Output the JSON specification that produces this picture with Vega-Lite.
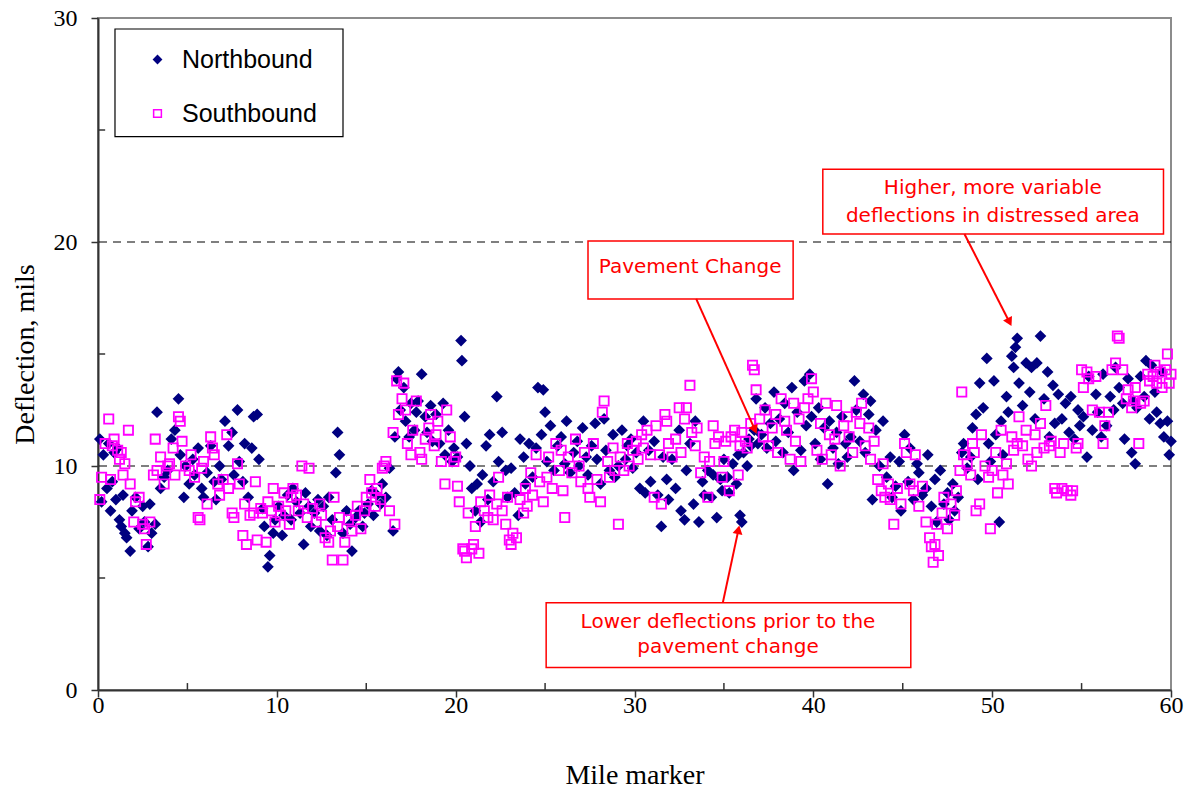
{
"$schema": "https://vega.github.io/schema/vega-lite/v6.json",
"width": 1073, "height": 672,
"autosize": "none",
"padding": {"left": 98, "top": 18, "right": 19, "bottom": 105},
"background": "white",
"config": {
 "view": {"stroke": "#8c8c8c", "strokeWidth": 2},
 "axis": {"domainColor": "#333333", "domainWidth": 2, "tickColor": "#333333", "tickWidth": 1.5, "labelFont": "Liberation Serif", "labelFontSize": 24, "labelColor": "black", "titleFont": "Liberation Serif", "titleFontSize": 28, "titleFontWeight": "normal", "titleColor": "black", "grid": false, "labelFlush": false}
},
"datasets": {
"pts": [
{"d":"N","x":0.1,"y":11.2},{"d":"N","x":0.2,"y":8.4},{"d":"N","x":0.3,"y":10.5},{"d":"N","x":0.5,"y":9.0},{"d":"N","x":0.6,"y":11.0},{"d":"N","x":0.7,"y":8.0},{"d":"N","x":0.8,"y":9.3},{"d":"N","x":0.9,"y":10.6},
{"d":"N","x":1.0,"y":8.5},{"d":"N","x":1.1,"y":10.8},{"d":"N","x":1.2,"y":7.6},{"d":"N","x":1.3,"y":7.3},{"d":"N","x":1.4,"y":8.7},{"d":"N","x":1.5,"y":7.0},{"d":"N","x":1.6,"y":6.8},{"d":"N","x":1.8,"y":6.2},{"d":"N","x":1.9,"y":8.0},
{"d":"N","x":2.1,"y":8.6},{"d":"N","x":2.3,"y":7.2},{"d":"N","x":2.5,"y":8.2},{"d":"N","x":2.6,"y":7.5},{"d":"N","x":2.8,"y":6.4},{"d":"N","x":2.9,"y":8.3},
{"d":"N","x":3.0,"y":7.0},{"d":"N","x":3.2,"y":7.4},{"d":"N","x":3.3,"y":12.4},{"d":"N","x":3.5,"y":9.0},{"d":"N","x":3.7,"y":9.5},{"d":"N","x":3.9,"y":9.8},
{"d":"N","x":4.1,"y":11.2},{"d":"N","x":4.3,"y":11.6},{"d":"N","x":4.5,"y":13.0},{"d":"N","x":4.6,"y":10.5},{"d":"N","x":4.8,"y":8.6},{"d":"N","x":4.9,"y":10.0},
{"d":"N","x":5.1,"y":9.2},{"d":"N","x":5.3,"y":10.3},{"d":"N","x":5.4,"y":9.6},{"d":"N","x":5.6,"y":10.8},{"d":"N","x":5.8,"y":9.0},{"d":"N","x":5.9,"y":8.6},
{"d":"N","x":6.1,"y":9.7},{"d":"N","x":6.3,"y":10.9},{"d":"N","x":6.5,"y":9.3},{"d":"N","x":6.6,"y":8.5},{"d":"N","x":6.8,"y":10.0},{"d":"N","x":6.9,"y":9.4},
{"d":"N","x":7.1,"y":12.0},{"d":"N","x":7.3,"y":10.9},{"d":"N","x":7.5,"y":11.5},{"d":"N","x":7.6,"y":9.6},{"d":"N","x":7.8,"y":12.5},{"d":"N","x":7.9,"y":10.2},
{"d":"N","x":8.1,"y":9.3},{"d":"N","x":8.2,"y":11.0},{"d":"N","x":8.4,"y":8.6},{"d":"N","x":8.6,"y":10.8},{"d":"N","x":8.7,"y":12.2},{"d":"N","x":8.9,"y":12.3},{"d":"N","x":9.0,"y":10.3},
{"d":"N","x":9.2,"y":8.1},{"d":"N","x":9.3,"y":7.3},{"d":"N","x":9.5,"y":5.5},{"d":"N","x":9.6,"y":6.0},{"d":"N","x":9.8,"y":7.0},{"d":"N","x":9.9,"y":7.6},
{"d":"N","x":10.1,"y":8.2},{"d":"N","x":10.3,"y":6.9},{"d":"N","x":10.4,"y":7.8},{"d":"N","x":10.6,"y":8.7},{"d":"N","x":10.8,"y":7.6},{"d":"N","x":10.9,"y":9.0},
{"d":"N","x":11.1,"y":8.4},{"d":"N","x":11.3,"y":7.9},{"d":"N","x":11.5,"y":6.5},{"d":"N","x":11.6,"y":8.8},{"d":"N","x":11.8,"y":8.2},{"d":"N","x":11.9,"y":7.3},
{"d":"N","x":12.1,"y":7.9},{"d":"N","x":12.3,"y":8.5},{"d":"N","x":12.4,"y":7.1},{"d":"N","x":12.6,"y":8.2},{"d":"N","x":12.8,"y":6.9},{"d":"N","x":12.9,"y":8.6},
{"d":"N","x":13.1,"y":7.6},{"d":"N","x":13.3,"y":9.7},{"d":"N","x":13.4,"y":11.5},{"d":"N","x":13.5,"y":10.5},{"d":"N","x":13.7,"y":7.0},{"d":"N","x":13.9,"y":8.0},
{"d":"N","x":14.1,"y":7.4},{"d":"N","x":14.2,"y":6.2},{"d":"N","x":14.4,"y":7.7},{"d":"N","x":14.6,"y":8.0},{"d":"N","x":14.8,"y":7.3},{"d":"N","x":14.9,"y":7.9},
{"d":"N","x":15.1,"y":8.3},{"d":"N","x":15.3,"y":8.9},{"d":"N","x":15.4,"y":7.8},{"d":"N","x":15.6,"y":8.7},{"d":"N","x":15.8,"y":8.3},{"d":"N","x":15.9,"y":9.2},
{"d":"N","x":16.1,"y":8.6},{"d":"N","x":16.3,"y":9.9},{"d":"N","x":16.5,"y":7.1},{"d":"N","x":16.6,"y":11.3},{"d":"N","x":16.7,"y":13.9},{"d":"N","x":16.8,"y":14.2},{"d":"N","x":16.9,"y":12.5},
{"d":"N","x":17.1,"y":13.5},{"d":"N","x":17.2,"y":12.0},{"d":"N","x":17.4,"y":11.3},{"d":"N","x":17.5,"y":12.8},{"d":"N","x":17.7,"y":11.6},{"d":"N","x":17.8,"y":12.4},{"d":"N","x":17.9,"y":12.9},
{"d":"N","x":18.1,"y":14.1},{"d":"N","x":18.3,"y":12.2},{"d":"N","x":18.4,"y":11.5},{"d":"N","x":18.6,"y":12.7},{"d":"N","x":18.7,"y":11.1},{"d":"N","x":18.9,"y":12.3},
{"d":"N","x":19.1,"y":11.0},{"d":"N","x":19.3,"y":12.8},{"d":"N","x":19.4,"y":10.5},{"d":"N","x":19.6,"y":11.6},{"d":"N","x":19.8,"y":10.2},{"d":"N","x":19.9,"y":10.8},
{"d":"N","x":20.1,"y":10.4},{"d":"N","x":20.3,"y":15.6},{"d":"N","x":20.35,"y":14.7},{"d":"N","x":20.5,"y":12.2},{"d":"N","x":20.6,"y":11.0},{"d":"N","x":20.8,"y":10.0},{"d":"N","x":20.9,"y":9.0},
{"d":"N","x":21.1,"y":8.0},{"d":"N","x":21.2,"y":9.2},{"d":"N","x":21.4,"y":7.5},{"d":"N","x":21.5,"y":9.6},{"d":"N","x":21.7,"y":10.9},{"d":"N","x":21.8,"y":8.5},{"d":"N","x":21.9,"y":11.4},
{"d":"N","x":22.1,"y":9.3},{"d":"N","x":22.3,"y":13.1},{"d":"N","x":22.4,"y":10.2},{"d":"N","x":22.6,"y":11.5},{"d":"N","x":22.8,"y":9.8},{"d":"N","x":22.9,"y":8.6},
{"d":"N","x":23.1,"y":9.9},{"d":"N","x":23.3,"y":8.8},{"d":"N","x":23.5,"y":7.8},{"d":"N","x":23.6,"y":11.2},{"d":"N","x":23.8,"y":10.4},{"d":"N","x":23.9,"y":9.2},
{"d":"N","x":24.1,"y":11.0},{"d":"N","x":24.3,"y":9.5},{"d":"N","x":24.5,"y":10.8},{"d":"N","x":24.6,"y":13.5},{"d":"N","x":24.8,"y":11.4},{"d":"N","x":24.9,"y":13.4},
{"d":"N","x":25.0,"y":12.4},{"d":"N","x":25.1,"y":10.2},{"d":"N","x":25.3,"y":11.8},{"d":"N","x":25.5,"y":9.8},{"d":"N","x":25.7,"y":10.9},{"d":"N","x":25.9,"y":11.3},
{"d":"N","x":26.1,"y":10.1},{"d":"N","x":26.2,"y":12.0},{"d":"N","x":26.4,"y":9.7},{"d":"N","x":26.6,"y":10.6},{"d":"N","x":26.8,"y":11.1},{"d":"N","x":26.9,"y":10.0},
{"d":"N","x":27.1,"y":11.7},{"d":"N","x":27.3,"y":10.4},{"d":"N","x":27.4,"y":9.6},{"d":"N","x":27.6,"y":10.9},{"d":"N","x":27.8,"y":11.9},{"d":"N","x":27.9,"y":10.3},
{"d":"N","x":28.1,"y":9.2},{"d":"N","x":28.3,"y":12.1},{"d":"N","x":28.4,"y":10.7},{"d":"N","x":28.6,"y":9.8},{"d":"N","x":28.8,"y":11.4},{"d":"N","x":28.9,"y":9.5},
{"d":"N","x":29.1,"y":10.0},{"d":"N","x":29.3,"y":11.6},{"d":"N","x":29.5,"y":10.3},{"d":"N","x":29.6,"y":10.9},{"d":"N","x":29.8,"y":11.2},{"d":"N","x":29.9,"y":9.9},
{"d":"N","x":30.1,"y":10.6},{"d":"N","x":30.3,"y":9.0},{"d":"N","x":30.5,"y":12.0},{"d":"N","x":30.6,"y":8.8},{"d":"N","x":30.8,"y":10.7},{"d":"N","x":30.9,"y":9.3},
{"d":"N","x":31.1,"y":11.1},{"d":"N","x":31.3,"y":8.7},{"d":"N","x":31.5,"y":7.3},{"d":"N","x":31.6,"y":10.4},{"d":"N","x":31.8,"y":9.4},{"d":"N","x":31.9,"y":8.5},
{"d":"N","x":32.1,"y":10.3},{"d":"N","x":32.3,"y":9.0},{"d":"N","x":32.5,"y":11.6},{"d":"N","x":32.6,"y":8.0},{"d":"N","x":32.8,"y":7.6},{"d":"N","x":32.9,"y":9.8},
{"d":"N","x":33.1,"y":11.0},{"d":"N","x":33.3,"y":8.3},{"d":"N","x":33.4,"y":12.0},{"d":"N","x":33.6,"y":7.5},{"d":"N","x":33.8,"y":9.3},{"d":"N","x":33.9,"y":8.7},
{"d":"N","x":34.1,"y":9.8},{"d":"N","x":34.3,"y":8.6},{"d":"N","x":34.4,"y":9.6},{"d":"N","x":34.6,"y":7.7},{"d":"N","x":34.8,"y":9.4},{"d":"N","x":34.9,"y":8.9},
{"d":"N","x":35.0,"y":10.3},{"d":"N","x":35.2,"y":9.5},{"d":"N","x":35.3,"y":8.8},{"d":"N","x":35.5,"y":10.1},{"d":"N","x":35.7,"y":9.2},{"d":"N","x":35.8,"y":10.5},{"d":"N","x":35.9,"y":7.8},{"d":"N","x":36.0,"y":7.5},
{"d":"N","x":36.1,"y":10.6},{"d":"N","x":36.3,"y":10.0},{"d":"N","x":36.4,"y":11.2},{"d":"N","x":36.5,"y":10.9},{"d":"N","x":36.7,"y":11.6},{"d":"N","x":36.8,"y":13.0},{"d":"N","x":36.9,"y":11.0},
{"d":"N","x":37.1,"y":11.4},{"d":"N","x":37.3,"y":12.6},{"d":"N","x":37.4,"y":10.8},{"d":"N","x":37.6,"y":11.9},{"d":"N","x":37.8,"y":13.3},{"d":"N","x":37.9,"y":11.1},
{"d":"N","x":38.1,"y":12.1},{"d":"N","x":38.3,"y":10.6},{"d":"N","x":38.4,"y":12.8},{"d":"N","x":38.6,"y":11.5},{"d":"N","x":38.8,"y":13.5},{"d":"N","x":38.9,"y":9.8},
{"d":"N","x":39.1,"y":12.4},{"d":"N","x":39.3,"y":10.7},{"d":"N","x":39.5,"y":13.8},{"d":"N","x":39.6,"y":11.8},{"d":"N","x":39.8,"y":14.1},{"d":"N","x":39.9,"y":12.2},
{"d":"N","x":40.1,"y":11.0},{"d":"N","x":40.3,"y":12.6},{"d":"N","x":40.4,"y":10.3},{"d":"N","x":40.6,"y":11.7},{"d":"N","x":40.8,"y":9.2},{"d":"N","x":40.9,"y":12.0},
{"d":"N","x":41.1,"y":10.8},{"d":"N","x":41.3,"y":11.5},{"d":"N","x":41.4,"y":10.1},{"d":"N","x":41.6,"y":12.2},{"d":"N","x":41.8,"y":11.0},{"d":"N","x":41.9,"y":10.4},
{"d":"N","x":42.1,"y":11.3},{"d":"N","x":42.3,"y":13.8},{"d":"N","x":42.4,"y":12.5},{"d":"N","x":42.6,"y":11.1},{"d":"N","x":42.8,"y":13.2},{"d":"N","x":42.9,"y":10.6},
{"d":"N","x":43.1,"y":12.3},{"d":"N","x":43.2,"y":12.9},{"d":"N","x":43.3,"y":8.5},{"d":"N","x":43.5,"y":11.6},{"d":"N","x":43.7,"y":10.0},{"d":"N","x":43.9,"y":12.0},
{"d":"N","x":44.1,"y":9.5},{"d":"N","x":44.3,"y":10.4},{"d":"N","x":44.4,"y":8.6},{"d":"N","x":44.6,"y":9.1},{"d":"N","x":44.8,"y":10.2},{"d":"N","x":44.9,"y":8.0},
{"d":"N","x":45.1,"y":11.4},{"d":"N","x":45.3,"y":9.3},{"d":"N","x":45.4,"y":10.8},{"d":"N","x":45.6,"y":8.5},{"d":"N","x":45.8,"y":10.1},{"d":"N","x":45.9,"y":9.7},
{"d":"N","x":46.1,"y":8.7},{"d":"N","x":46.3,"y":9.0},{"d":"N","x":46.4,"y":10.5},{"d":"N","x":46.6,"y":8.2},{"d":"N","x":46.8,"y":9.4},{"d":"N","x":46.9,"y":7.5},
{"d":"N","x":47.1,"y":9.8},{"d":"N","x":47.3,"y":8.3},{"d":"N","x":47.5,"y":8.8},{"d":"N","x":47.6,"y":7.6},{"d":"N","x":47.8,"y":9.2},{"d":"N","x":47.9,"y":8.0},
{"d":"N","x":48.1,"y":8.6},{"d":"N","x":48.3,"y":10.6},{"d":"N","x":48.4,"y":11.0},{"d":"N","x":48.6,"y":9.9},{"d":"N","x":48.8,"y":10.4},{"d":"N","x":48.9,"y":11.7},
{"d":"N","x":49.1,"y":12.3},{"d":"N","x":49.2,"y":9.4},{"d":"N","x":49.3,"y":13.7},{"d":"N","x":49.5,"y":12.6},{"d":"N","x":49.7,"y":14.8},{"d":"N","x":49.8,"y":11.0},{"d":"N","x":49.9,"y":10.2},
{"d":"N","x":50.1,"y":13.8},{"d":"N","x":50.2,"y":11.4},{"d":"N","x":50.4,"y":7.5},{"d":"N","x":50.5,"y":12.0},{"d":"N","x":50.6,"y":10.5},{"d":"N","x":50.8,"y":13.1},{"d":"N","x":50.9,"y":12.4},
{"d":"N","x":51.1,"y":14.9},{"d":"N","x":51.2,"y":14.4},{"d":"N","x":51.3,"y":15.3},{"d":"N","x":51.4,"y":15.7},{"d":"N","x":51.5,"y":13.7},{"d":"N","x":51.7,"y":12.7},{"d":"N","x":51.9,"y":14.6},
{"d":"N","x":52.1,"y":13.3},{"d":"N","x":52.2,"y":14.4},{"d":"N","x":52.4,"y":12.1},{"d":"N","x":52.5,"y":14.6},{"d":"N","x":52.7,"y":15.8},{"d":"N","x":52.9,"y":13.0},
{"d":"N","x":53.1,"y":14.2},{"d":"N","x":53.2,"y":11.3},{"d":"N","x":53.4,"y":13.6},{"d":"N","x":53.5,"y":11.9},{"d":"N","x":53.7,"y":13.2},{"d":"N","x":53.9,"y":12.1},
{"d":"N","x":54.1,"y":12.8},{"d":"N","x":54.3,"y":11.5},{"d":"N","x":54.4,"y":13.1},{"d":"N","x":54.6,"y":11.2},{"d":"N","x":54.8,"y":12.5},{"d":"N","x":54.9,"y":11.8},
{"d":"N","x":55.1,"y":12.2},{"d":"N","x":55.3,"y":10.4},{"d":"N","x":55.4,"y":14.0},{"d":"N","x":55.6,"y":11.6},{"d":"N","x":55.8,"y":13.2},{"d":"N","x":55.9,"y":12.4},
{"d":"N","x":56.1,"y":11.3},{"d":"N","x":56.2,"y":14.1},{"d":"N","x":56.4,"y":11.8},{"d":"N","x":56.6,"y":13.1},{"d":"N","x":56.8,"y":12.5},{"d":"N","x":56.9,"y":14.4},
{"d":"N","x":57.1,"y":13.5},{"d":"N","x":57.3,"y":12.8},{"d":"N","x":57.4,"y":11.2},{"d":"N","x":57.6,"y":13.9},{"d":"N","x":57.8,"y":10.6},{"d":"N","x":57.9,"y":12.9},
{"d":"N","x":58.0,"y":10.1},{"d":"N","x":58.1,"y":12.6},{"d":"N","x":58.3,"y":14.0},{"d":"N","x":58.5,"y":13.1},{"d":"N","x":58.6,"y":14.7},{"d":"N","x":58.8,"y":12.1},{"d":"N","x":58.9,"y":14.5},
{"d":"N","x":59.1,"y":13.3},{"d":"N","x":59.2,"y":12.4},{"d":"N","x":59.4,"y":11.9},{"d":"N","x":59.5,"y":14.2},{"d":"N","x":59.6,"y":11.3},{"d":"N","x":59.8,"y":12.0},{"d":"N","x":59.9,"y":10.5},{"d":"N","x":60.0,"y":11.1},
{"d":"S","x":0.1,"y":8.5},{"d":"S","x":0.2,"y":9.5},{"d":"S","x":0.4,"y":11.0},{"d":"S","x":0.6,"y":12.1},{"d":"S","x":0.7,"y":9.4},{"d":"S","x":0.8,"y":10.9},{"d":"S","x":0.9,"y":11.2},
{"d":"S","x":1.1,"y":10.7},{"d":"S","x":1.2,"y":10.3},{"d":"S","x":1.3,"y":10.6},{"d":"S","x":1.4,"y":9.6},{"d":"S","x":1.5,"y":10.1},{"d":"S","x":1.7,"y":11.6},{"d":"S","x":1.8,"y":9.2},
{"d":"S","x":2.0,"y":7.5},{"d":"S","x":2.1,"y":8.4},{"d":"S","x":2.3,"y":8.6},{"d":"S","x":2.5,"y":7.4},{"d":"S","x":2.6,"y":7.2},{"d":"S","x":2.7,"y":6.5},{"d":"S","x":2.9,"y":7.5},
{"d":"S","x":3.1,"y":9.6},{"d":"S","x":3.2,"y":11.2},{"d":"S","x":3.3,"y":9.8},{"d":"S","x":3.5,"y":10.4},{"d":"S","x":3.7,"y":9.2},{"d":"S","x":3.9,"y":10.0},
{"d":"S","x":4.0,"y":10.1},{"d":"S","x":4.2,"y":10.8},{"d":"S","x":4.3,"y":9.6},{"d":"S","x":4.5,"y":12.2},{"d":"S","x":4.6,"y":12.0},{"d":"S","x":4.7,"y":11.1},{"d":"S","x":4.9,"y":10.0},
{"d":"S","x":5.1,"y":9.8},{"d":"S","x":5.2,"y":10.5},{"d":"S","x":5.4,"y":9.5},{"d":"S","x":5.6,"y":7.7},{"d":"S","x":5.7,"y":7.6},{"d":"S","x":5.8,"y":9.9},{"d":"S","x":5.9,"y":10.2},
{"d":"S","x":6.1,"y":8.3},{"d":"S","x":6.3,"y":11.3},{"d":"S","x":6.4,"y":10.8},{"d":"S","x":6.5,"y":10.5},{"d":"S","x":6.7,"y":9.2},{"d":"S","x":6.8,"y":8.7},
{"d":"S","x":7.0,"y":9.4},{"d":"S","x":7.2,"y":11.4},{"d":"S","x":7.3,"y":9.0},{"d":"S","x":7.5,"y":7.9},{"d":"S","x":7.6,"y":7.7},{"d":"S","x":7.8,"y":10.1},{"d":"S","x":7.9,"y":9.2},
{"d":"S","x":8.1,"y":6.9},{"d":"S","x":8.2,"y":8.3},{"d":"S","x":8.3,"y":6.5},{"d":"S","x":8.5,"y":7.8},{"d":"S","x":8.7,"y":7.9},{"d":"S","x":8.8,"y":9.3},{"d":"S","x":8.9,"y":6.7},
{"d":"S","x":9.1,"y":8.1},{"d":"S","x":9.2,"y":7.9},{"d":"S","x":9.4,"y":6.6},{"d":"S","x":9.5,"y":8.4},{"d":"S","x":9.7,"y":8.0},{"d":"S","x":9.8,"y":9.0},{"d":"S","x":9.9,"y":7.5},
{"d":"S","x":10.1,"y":8.2},{"d":"S","x":10.2,"y":7.8},{"d":"S","x":10.4,"y":8.8},{"d":"S","x":10.5,"y":8.0},{"d":"S","x":10.7,"y":7.4},{"d":"S","x":10.8,"y":8.6},{"d":"S","x":10.9,"y":9.0},
{"d":"S","x":11.1,"y":8.7},{"d":"S","x":11.2,"y":8.0},{"d":"S","x":11.4,"y":10.0},{"d":"S","x":11.5,"y":8.3},{"d":"S","x":11.7,"y":7.7},{"d":"S","x":11.8,"y":9.9},
{"d":"S","x":12.0,"y":8.1},{"d":"S","x":12.2,"y":7.5},{"d":"S","x":12.4,"y":8.3},{"d":"S","x":12.5,"y":7.8},{"d":"S","x":12.7,"y":6.8},{"d":"S","x":12.9,"y":6.6},
{"d":"S","x":13.0,"y":7.1},{"d":"S","x":13.1,"y":5.8},{"d":"S","x":13.2,"y":8.6},{"d":"S","x":13.4,"y":7.3},{"d":"S","x":13.5,"y":7.7},{"d":"S","x":13.7,"y":5.8},{"d":"S","x":13.8,"y":6.6},
{"d":"S","x":14.0,"y":7.6},{"d":"S","x":14.2,"y":7.1},{"d":"S","x":14.4,"y":7.8},{"d":"S","x":14.5,"y":8.2},{"d":"S","x":14.7,"y":7.2},{"d":"S","x":14.9,"y":8.0},
{"d":"S","x":15.0,"y":8.6},{"d":"S","x":15.2,"y":9.4},{"d":"S","x":15.3,"y":8.8},{"d":"S","x":15.5,"y":8.2},{"d":"S","x":15.6,"y":9.0},{"d":"S","x":15.8,"y":8.5},{"d":"S","x":15.9,"y":9.9},
{"d":"S","x":16.0,"y":10.0},{"d":"S","x":16.1,"y":10.2},{"d":"S","x":16.3,"y":8.0},{"d":"S","x":16.5,"y":11.5},{"d":"S","x":16.6,"y":7.4},{"d":"S","x":16.7,"y":13.8},{"d":"S","x":16.8,"y":12.3},
{"d":"S","x":17.0,"y":13.0},{"d":"S","x":17.1,"y":13.7},{"d":"S","x":17.2,"y":12.5},{"d":"S","x":17.3,"y":11.0},{"d":"S","x":17.5,"y":10.5},{"d":"S","x":17.6,"y":11.6},{"d":"S","x":17.8,"y":12.9},
{"d":"S","x":18.0,"y":10.6},{"d":"S","x":18.1,"y":10.3},{"d":"S","x":18.3,"y":11.2},{"d":"S","x":18.5,"y":11.7},{"d":"S","x":18.6,"y":12.3},{"d":"S","x":18.8,"y":10.9},{"d":"S","x":18.9,"y":11.4},
{"d":"S","x":19.0,"y":12.0},{"d":"S","x":19.2,"y":10.2},{"d":"S","x":19.4,"y":9.2},{"d":"S","x":19.5,"y":12.5},{"d":"S","x":19.7,"y":11.3},{"d":"S","x":19.9,"y":10.2},
{"d":"S","x":20.0,"y":10.4},{"d":"S","x":20.1,"y":9.1},{"d":"S","x":20.2,"y":8.4},{"d":"S","x":20.4,"y":6.3},{"d":"S","x":20.5,"y":6.2},{"d":"S","x":20.6,"y":5.9},{"d":"S","x":20.7,"y":7.9},{"d":"S","x":20.9,"y":6.3},
{"d":"S","x":21.0,"y":6.5},{"d":"S","x":21.1,"y":7.3},{"d":"S","x":21.3,"y":6.1},{"d":"S","x":21.4,"y":8.4},{"d":"S","x":21.6,"y":8.0},{"d":"S","x":21.8,"y":7.7},{"d":"S","x":21.9,"y":8.7},
{"d":"S","x":22.1,"y":7.6},{"d":"S","x":22.3,"y":8.3},{"d":"S","x":22.4,"y":9.5},{"d":"S","x":22.6,"y":8.0},{"d":"S","x":22.8,"y":7.4},{"d":"S","x":22.9,"y":8.6},
{"d":"S","x":23.0,"y":6.7},{"d":"S","x":23.1,"y":6.5},{"d":"S","x":23.2,"y":7.0},{"d":"S","x":23.4,"y":6.8},{"d":"S","x":23.6,"y":8.5},{"d":"S","x":23.8,"y":7.9},{"d":"S","x":23.9,"y":9.0},
{"d":"S","x":24.0,"y":8.2},{"d":"S","x":24.2,"y":9.7},{"d":"S","x":24.3,"y":8.7},{"d":"S","x":24.5,"y":10.5},{"d":"S","x":24.7,"y":9.3},{"d":"S","x":24.9,"y":8.4},
{"d":"S","x":25.1,"y":9.5},{"d":"S","x":25.2,"y":10.4},{"d":"S","x":25.4,"y":9.0},{"d":"S","x":25.6,"y":11.0},{"d":"S","x":25.8,"y":9.8},{"d":"S","x":25.9,"y":10.7},
{"d":"S","x":26.0,"y":8.9},{"d":"S","x":26.1,"y":7.7},{"d":"S","x":26.3,"y":10.4},{"d":"S","x":26.5,"y":9.7},{"d":"S","x":26.7,"y":11.2},{"d":"S","x":26.9,"y":10.0},
{"d":"S","x":27.0,"y":9.3},{"d":"S","x":27.2,"y":10.6},{"d":"S","x":27.4,"y":9.0},{"d":"S","x":27.5,"y":8.6},{"d":"S","x":27.7,"y":11.0},{"d":"S","x":27.9,"y":9.4},
{"d":"S","x":28.1,"y":8.4},{"d":"S","x":28.2,"y":12.4},{"d":"S","x":28.3,"y":12.9},{"d":"S","x":28.5,"y":10.2},{"d":"S","x":28.6,"y":9.5},{"d":"S","x":28.8,"y":10.8},{"d":"S","x":28.9,"y":9.8},
{"d":"S","x":29.1,"y":7.4},{"d":"S","x":29.2,"y":10.4},{"d":"S","x":29.4,"y":9.8},{"d":"S","x":29.6,"y":11.0},{"d":"S","x":29.7,"y":10.0},{"d":"S","x":29.9,"y":10.7},
{"d":"S","x":30.1,"y":11.1},{"d":"S","x":30.2,"y":10.3},{"d":"S","x":30.4,"y":11.4},{"d":"S","x":30.5,"y":10.8},{"d":"S","x":30.7,"y":11.6},{"d":"S","x":30.9,"y":10.5},
{"d":"S","x":31.1,"y":8.6},{"d":"S","x":31.2,"y":11.8},{"d":"S","x":31.4,"y":10.5},{"d":"S","x":31.5,"y":8.3},{"d":"S","x":31.7,"y":12.3},{"d":"S","x":31.8,"y":12.0},{"d":"S","x":31.9,"y":11.0},
{"d":"S","x":32.1,"y":10.4},{"d":"S","x":32.3,"y":11.2},{"d":"S","x":32.5,"y":12.6},{"d":"S","x":32.6,"y":10.6},{"d":"S","x":32.8,"y":12.1},{"d":"S","x":32.9,"y":12.6},
{"d":"S","x":33.1,"y":13.6},{"d":"S","x":33.2,"y":11.5},{"d":"S","x":33.4,"y":10.9},{"d":"S","x":33.5,"y":11.7},{"d":"S","x":33.7,"y":9.7},{"d":"S","x":33.9,"y":10.4},
{"d":"S","x":34.1,"y":8.6},{"d":"S","x":34.2,"y":10.2},{"d":"S","x":34.4,"y":11.8},{"d":"S","x":34.5,"y":11.0},{"d":"S","x":34.7,"y":11.3},{"d":"S","x":34.9,"y":9.5},
{"d":"S","x":35.0,"y":10.2},{"d":"S","x":35.1,"y":11.1},{"d":"S","x":35.3,"y":8.9},{"d":"S","x":35.4,"y":11.3},{"d":"S","x":35.6,"y":11.6},{"d":"S","x":35.8,"y":9.6},{"d":"S","x":35.9,"y":10.9},
{"d":"S","x":36.0,"y":11.5},{"d":"S","x":36.2,"y":11.1},{"d":"S","x":36.3,"y":10.8},{"d":"S","x":36.5,"y":11.9},{"d":"S","x":36.6,"y":14.5},{"d":"S","x":36.7,"y":14.3},{"d":"S","x":36.8,"y":13.4},
{"d":"S","x":37.0,"y":12.1},{"d":"S","x":37.2,"y":11.3},{"d":"S","x":37.3,"y":12.5},{"d":"S","x":37.5,"y":10.9},{"d":"S","x":37.7,"y":11.7},{"d":"S","x":37.9,"y":12.3},
{"d":"S","x":38.0,"y":10.6},{"d":"S","x":38.2,"y":13.0},{"d":"S","x":38.4,"y":12.0},{"d":"S","x":38.5,"y":11.6},{"d":"S","x":38.7,"y":10.3},{"d":"S","x":38.9,"y":12.8},
{"d":"S","x":39.0,"y":11.1},{"d":"S","x":39.2,"y":12.1},{"d":"S","x":39.3,"y":10.2},{"d":"S","x":39.5,"y":12.6},{"d":"S","x":39.7,"y":13.0},{"d":"S","x":39.9,"y":13.9},
{"d":"S","x":40.0,"y":13.3},{"d":"S","x":40.2,"y":10.7},{"d":"S","x":40.4,"y":11.9},{"d":"S","x":40.5,"y":10.3},{"d":"S","x":40.7,"y":12.8},{"d":"S","x":40.9,"y":11.4},
{"d":"S","x":41.0,"y":10.5},{"d":"S","x":41.2,"y":11.2},{"d":"S","x":41.3,"y":12.7},{"d":"S","x":41.5,"y":10.0},{"d":"S","x":41.7,"y":11.8},{"d":"S","x":41.9,"y":12.2},
{"d":"S","x":42.0,"y":11.3},{"d":"S","x":42.2,"y":10.6},{"d":"S","x":42.4,"y":12.4},{"d":"S","x":42.6,"y":11.9},{"d":"S","x":42.7,"y":12.8},{"d":"S","x":42.9,"y":10.9},
{"d":"S","x":43.1,"y":11.7},{"d":"S","x":43.2,"y":10.3},{"d":"S","x":43.4,"y":11.1},{"d":"S","x":43.6,"y":9.4},{"d":"S","x":43.8,"y":8.9},{"d":"S","x":43.9,"y":10.1},
{"d":"S","x":44.0,"y":8.6},{"d":"S","x":44.2,"y":9.2},{"d":"S","x":44.3,"y":8.5},{"d":"S","x":44.5,"y":7.4},{"d":"S","x":44.7,"y":9.0},{"d":"S","x":44.9,"y":8.3},
{"d":"S","x":45.1,"y":11.0},{"d":"S","x":45.2,"y":10.6},{"d":"S","x":45.4,"y":9.2},{"d":"S","x":45.6,"y":8.9},{"d":"S","x":45.7,"y":10.5},{"d":"S","x":45.9,"y":8.2},
{"d":"S","x":46.1,"y":9.1},{"d":"S","x":46.3,"y":7.5},{"d":"S","x":46.5,"y":6.8},{"d":"S","x":46.6,"y":6.4},{"d":"S","x":46.7,"y":5.7},{"d":"S","x":46.8,"y":6.5},{"d":"S","x":46.9,"y":7.4},
{"d":"S","x":47.0,"y":6.0},{"d":"S","x":47.2,"y":7.9},{"d":"S","x":47.3,"y":8.6},{"d":"S","x":47.5,"y":7.2},{"d":"S","x":47.7,"y":8.3},{"d":"S","x":47.9,"y":7.8},
{"d":"S","x":48.0,"y":8.9},{"d":"S","x":48.2,"y":9.8},{"d":"S","x":48.3,"y":13.3},{"d":"S","x":48.4,"y":10.5},{"d":"S","x":48.6,"y":10.1},{"d":"S","x":48.8,"y":9.6},{"d":"S","x":48.9,"y":11.0},
{"d":"S","x":49.0,"y":10.6},{"d":"S","x":49.1,"y":8.0},{"d":"S","x":49.3,"y":8.3},{"d":"S","x":49.4,"y":11.4},{"d":"S","x":49.6,"y":10.0},{"d":"S","x":49.8,"y":9.5},{"d":"S","x":49.9,"y":7.2},
{"d":"S","x":50.0,"y":9.8},{"d":"S","x":50.2,"y":10.6},{"d":"S","x":50.3,"y":8.8},{"d":"S","x":50.5,"y":11.6},{"d":"S","x":50.6,"y":9.6},{"d":"S","x":50.8,"y":10.1},{"d":"S","x":50.9,"y":9.2},
{"d":"S","x":51.1,"y":11.3},{"d":"S","x":51.2,"y":10.7},{"d":"S","x":51.4,"y":11.0},{"d":"S","x":51.5,"y":12.2},{"d":"S","x":51.7,"y":10.9},{"d":"S","x":51.9,"y":11.6},
{"d":"S","x":52.0,"y":10.3},{"d":"S","x":52.2,"y":10.0},{"d":"S","x":52.4,"y":11.4},{"d":"S","x":52.5,"y":10.6},{"d":"S","x":52.7,"y":11.9},{"d":"S","x":52.9,"y":10.8},
{"d":"S","x":53.0,"y":12.7},{"d":"S","x":53.2,"y":10.9},{"d":"S","x":53.3,"y":11.1},{"d":"S","x":53.5,"y":9.0},{"d":"S","x":53.6,"y":8.8},{"d":"S","x":53.8,"y":10.6},{"d":"S","x":53.9,"y":9.0},
{"d":"S","x":54.0,"y":11.0},{"d":"S","x":54.2,"y":8.9},{"d":"S","x":54.4,"y":8.7},{"d":"S","x":54.5,"y":8.9},{"d":"S","x":54.7,"y":10.8},{"d":"S","x":54.8,"y":11.0},
{"d":"S","x":55.0,"y":14.3},{"d":"S","x":55.1,"y":13.5},{"d":"S","x":55.3,"y":14.2},{"d":"S","x":55.4,"y":13.9},{"d":"S","x":55.6,"y":12.5},{"d":"S","x":55.8,"y":14.0},
{"d":"S","x":56.0,"y":12.4},{"d":"S","x":56.2,"y":11.0},{"d":"S","x":56.3,"y":11.8},{"d":"S","x":56.5,"y":12.4},{"d":"S","x":56.7,"y":14.3},{"d":"S","x":56.9,"y":14.6},
{"d":"S","x":57.0,"y":15.8},{"d":"S","x":57.1,"y":15.7},{"d":"S","x":57.3,"y":14.3},{"d":"S","x":57.5,"y":13.0},{"d":"S","x":57.6,"y":13.4},{"d":"S","x":57.8,"y":12.6},{"d":"S","x":57.9,"y":12.9},
{"d":"S","x":58.0,"y":13.5},{"d":"S","x":58.2,"y":11.0},{"d":"S","x":58.3,"y":12.8},{"d":"S","x":58.5,"y":12.9},{"d":"S","x":58.7,"y":14.1},{"d":"S","x":58.8,"y":13.8},
{"d":"S","x":59.0,"y":14.0},{"d":"S","x":59.1,"y":14.5},{"d":"S","x":59.2,"y":13.7},{"d":"S","x":59.4,"y":14.2},{"d":"S","x":59.5,"y":13.5},{"d":"S","x":59.7,"y":14.3},{"d":"S","x":59.8,"y":15.0},{"d":"S","x":59.9,"y":13.7},{"d":"S","x":60.0,"y":14.1}
]
},
"layer": [
 {"data": {"values": [{"y": 10}, {"y": 20}]},
  "mark": {"type": "rule", "color": "black", "strokeWidth": 1.2, "strokeDash": [8, 6]},
  "encoding": {"y": {"field": "y", "type": "quantitative", "scale": {"domain": [0, 30], "nice": false}, "axis": {"title": "Deflection, mils", "values": [0, 10, 20, 30], "tickSize": 7, "labelPadding": 14, "titlePadding": 14}}}},
 {"data": {"values": [{"y": 5, "x": 0, "x2": 0.4}, {"y": 15, "x": 0, "x2": 0.4}, {"y": 25, "x": 0, "x2": 0.4}]},
  "mark": {"type": "rule", "color": "#333333", "strokeWidth": 1.5},
  "encoding": {"y": {"field": "y", "type": "quantitative"}, "x": {"field": "x", "type": "quantitative", "scale": {"domain": [0, 60], "nice": false, "zero": false}, "axis": {"title": "Mile marker", "values": [0, 10, 20, 30, 40, 50, 60], "tickSize": 7, "labelPadding": -4, "titlePadding": 44}}, "x2": {"field": "x2"}}},
 {"data": {"values": [{"x": 5, "y": 0, "y2": 0.31}, {"x": 15, "y": 0, "y2": 0.31}, {"x": 25, "y": 0, "y2": 0.31}, {"x": 35, "y": 0, "y2": 0.31}, {"x": 45, "y": 0, "y2": 0.31}, {"x": 55, "y": 0, "y2": 0.31}]},
  "mark": {"type": "rule", "color": "#333333", "strokeWidth": 1.5},
  "encoding": {"x": {"field": "x", "type": "quantitative"}, "y": {"field": "y", "type": "quantitative"}, "y2": {"field": "y2"}}},
 {"data": {"values": [{"x": 0.95, "x2": 13.7, "y": 29.51, "y2": 24.7}]},
  "mark": {"type": "rect", "fill": "white", "stroke": "black", "strokeWidth": 1.2},
  "encoding": {"x": {"field": "x", "type": "quantitative"}, "x2": {"field": "x2"}, "y": {"field": "y", "type": "quantitative"}, "y2": {"field": "y2"}}},
 {"data": {"name": "pts"},
  "mark": {"type": "point", "filled": true, "size": 85, "strokeWidth": 1.8, "opacity": 1},
  "encoding": {
   "x": {"field": "x", "type": "quantitative"},
   "y": {"field": "y", "type": "quantitative"},
   "fill": {"field": "d", "type": "nominal", "scale": {"domain": ["N", "S"], "range": ["#000080", "transparent"]}, "legend": {"title": null}},
   "stroke": {"field": "d", "type": "nominal", "scale": {"domain": ["N", "S"], "range": ["#000080", "#FF00FF"]}, "legend": {"title": null}},
   "shape": {"field": "d", "type": "nominal", "scale": {"domain": ["N", "S"], "range": ["diamond", "square"]},
     "legend": {"title": null, "orient": "none", "legendX": 47, "legendY": 29, "labelFont": "Liberation Sans", "labelFontSize": 25, "labelColor": "black", "rowPadding": 28, "labelOffset": 12, "symbolSize": 60, "symbolStrokeWidth": 1.5, "padding": 0,
       "labelExpr": "datum.label == 'N' ? 'Northbound' : 'Southbound'"}}
  }},
 {"data": {"values": [{"x": 27.4, "x2": 38.87, "y": 20.04, "y2": 17.46}, {"x": 40.53, "x2": 59.58, "y": 23.25, "y2": 20.36}, {"x": 25.06, "x2": 45.45, "y": 3.9, "y2": 1.01}]},
  "mark": {"type": "rect", "fill": "white", "stroke": "#FF0000", "strokeWidth": 1.5},
  "encoding": {"x": {"field": "x", "type": "quantitative"}, "x2": {"field": "x2"}, "y": {"field": "y", "type": "quantitative"}, "y2": {"field": "y2"}}},
 {"data": {"values": [{"x": 33.45, "y": 17.46, "x2": 36.73, "y2": 11.62}, {"x": 48.45, "y": 20.36, "x2": 50.97, "y2": 16.42}, {"x": 34.94, "y": 3.9, "x2": 35.81, "y2": 7.15}]},
  "mark": {"type": "rule", "color": "#FF0000", "strokeWidth": 2},
  "encoding": {"x": {"field": "x", "type": "quantitative"}, "x2": {"field": "x2"}, "y": {"field": "y", "type": "quantitative"}, "y2": {"field": "y2"}}},
 {"data": {"values": [{"x": 36.73, "y": 11.62, "a": 155.9}, {"x": 50.97, "y": 16.42, "a": 152.9}, {"x": 35.81, "y": 7.15, "a": 12.1}]},
  "mark": {"type": "point", "shape": "triangle-up", "filled": true, "color": "#FF0000", "size": 100, "opacity": 1},
  "encoding": {"x": {"field": "x", "type": "quantitative"}, "y": {"field": "y", "type": "quantitative"}, "angle": {"field": "a", "type": "quantitative", "scale": null}}},
 {"data": {"values": [{"x": 33.11, "y": 18.9, "t": "Pavement Change"}, {"x": 50.04, "y": 22.4, "t": "Higher, more variable"}, {"x": 50.04, "y": 21.16, "t": "deflections in distressed area"}, {"x": 35.23, "y": 3.05, "t": "Lower deflections prior to the"}, {"x": 35.23, "y": 1.9, "t": "pavement change"}]},
  "mark": {"type": "text", "font": "DejaVu Sans", "fontSize": 20, "color": "#FF0000", "align": "center", "baseline": "middle"},
  "encoding": {"x": {"field": "x", "type": "quantitative"}, "y": {"field": "y", "type": "quantitative"}, "text": {"field": "t"}}}
]
}
